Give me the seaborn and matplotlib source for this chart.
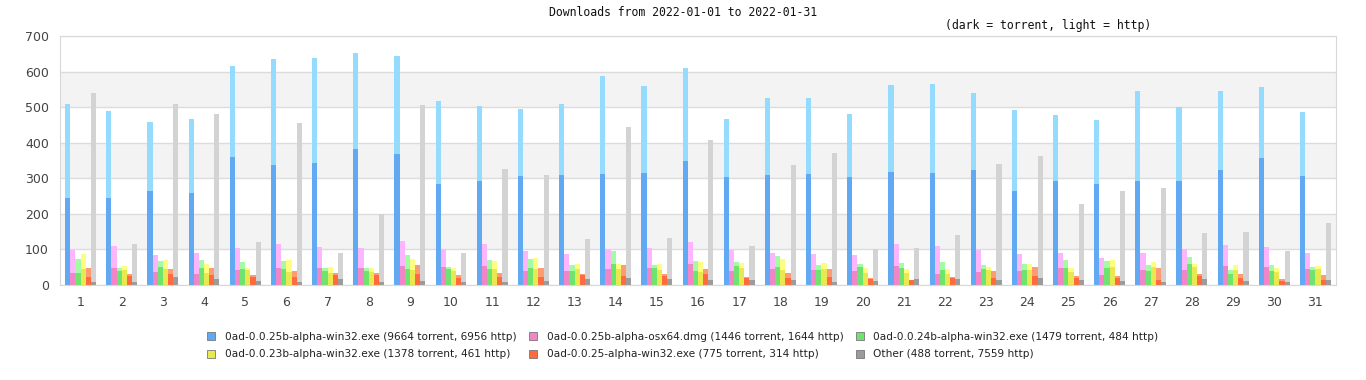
import matplotlib
matplotlib.use("Agg")
import matplotlib.pyplot as plt
from matplotlib.patches import Patch
import pandas as pd
import seaborn as sns

# Daily values: total height (torrent + http) and torrent part
days = list(range(1, 32))

files = [
    "0ad-0.0.25b-alpha-win32.exe (9664 torrent, 6956 http)",
    "0ad-0.0.25b-alpha-osx64.dmg (1446 torrent, 1644 http)",
    "0ad-0.0.24b-alpha-win32.exe (1479 torrent, 484 http)",
    "0ad-0.0.23b-alpha-win32.exe (1378 torrent, 461 http)",
    "0ad-0.0.25-alpha-win32.exe (775 torrent, 314 http)",
    "Other (488 torrent, 7559 http)",
]

win25b_total = [509, 489, 458, 467, 616, 635, 638, 652, 644, 517, 503, 495, 509, 588, 560, 610,
                467, 526, 526, 481, 562, 565, 540, 492, 478, 464, 545, 500, 545, 557, 486]
win25b_torrent = [245, 245, 264, 259, 360, 337, 343, 382, 368, 284, 292, 306, 309, 312, 315, 349,
                  304, 309, 312, 304, 318, 315, 323, 264, 292, 284, 292, 292, 323, 357, 306]

osx25b_total = [98, 110, 84, 90, 104, 115, 107, 104, 124, 101, 115, 96, 87, 101, 104, 121,
                98, 90, 87, 84, 115, 110, 98, 87, 90, 76, 90, 101, 112, 107, 90]
osx25b_torrent = [34, 48, 37, 31, 42, 48, 48, 48, 53, 51, 53, 39, 39, 45, 48, 59,
                  39, 45, 42, 39, 53, 31, 37, 39, 48, 28, 42, 42, 53, 51, 45]

win24b_total = [73, 48, 67, 70, 65, 67, 48, 48, 84, 51, 70, 73, 56, 96, 56, 67,
                65, 82, 56, 59, 62, 65, 56, 59, 70, 67, 56, 79, 42, 56, 51]
win24b_torrent = [34, 40, 51, 48, 45, 45, 39, 39, 45, 45, 45, 48, 39, 59, 48, 39,
                  53, 51, 42, 51, 48, 42, 45, 42, 48, 48, 39, 59, 31, 39, 42]

win23b_total = [87, 53, 70, 59, 48, 70, 51, 48, 73, 48, 67, 76, 59, 59, 59, 65,
                62, 73, 62, 48, 45, 45, 51, 59, 48, 70, 65, 59, 56, 48, 53]
win23b_torrent = [45, 42, 45, 34, 42, 37, 34, 37, 42, 39, 45, 45, 45, 45, 42, 37,
                  48, 42, 45, 34, 34, 31, 42, 42, 37, 51, 51, 51, 42, 37, 45]

win25_total = [48, 31, 45, 48, 28, 39, 34, 34, 56, 28, 34, 48, 31, 56, 31, 45,
               22, 34, 45, 20, 14, 22, 39, 51, 25, 25, 48, 31, 31, 17, 28]
win25_torrent = [22, 24, 31, 28, 22, 22, 28, 28, 31, 20, 22, 22, 28, 25, 25, 31,
                 20, 20, 22, 17, 13, 20, 20, 25, 20, 20, 14, 25, 20, 11, 14]

other_total = [540, 116, 509, 481, 121, 455, 90, 200, 506, 90, 326, 309, 129, 444, 132, 408,
               110, 337, 372, 101, 104, 141, 340, 363, 228, 264, 273, 146, 149, 96, 174]
other_torrent = [8, 8, 22, 17, 11, 8, 17, 8, 11, 8, 8, 11, 17, 20, 17, 14,
                 14, 14, 8, 11, 17, 17, 14, 20, 14, 11, 8, 17, 11, 8, 14]

dark_colors = ["#62a9f3", "#f086c8", "#6ee36e", "#e8e851", "#ff6b3d", "#9b9b9b"]
light_colors = ["#94dbfd", "#fdb6fd", "#a3fba3", "#fdfd80", "#ff9b73", "#d3d3d3"]

totals = [win25b_total, osx25b_total, win24b_total, win23b_total, win25_total, other_total]
torrents = [win25b_torrent, osx25b_torrent, win24b_torrent, win23b_torrent, win25_torrent, other_torrent]

rows = []
for name, tot, tor in zip(files, totals, torrents):
    for d, a, b in zip(days, tot, tor):
        rows.append({"day": d, "file": name, "total": a, "torrent": b})
df = pd.DataFrame(rows)

sns.set_style("white")
plt.rcParams["font.family"] = ["DejaVu Sans"]

fig = plt.figure(figsize=(13.66, 3.8), dpi=100)
ax = fig.add_axes([60 / 1366, 1 - 285 / 380, 1276 / 1366, 249 / 380])

# alternating background bands
for lo in (100, 300, 500):
    ax.axhspan(lo, lo + 100, color="#f3f3f3", zorder=0, lw=0)

# light = total (torrent + http), dark = torrent part drawn over it
sns.barplot(df, x="day", y="total", hue="file", hue_order=files, palette=light_colors,
            width=0.75, saturation=1, errorbar=None, legend=False, linewidth=0, ax=ax)
sns.barplot(df, x="day", y="torrent", hue="file", hue_order=files, palette=dark_colors,
            width=0.75, saturation=1, errorbar=None, legend=False, linewidth=0, ax=ax)

ax.set_ylim(0, 700)
ax.set_xlim(-0.5, 30.5)
ax.set_yticks(range(0, 701, 100))
ax.yaxis.grid(True, color="#dcdcdc", lw=1)
ax.set_axisbelow(True)
for s in ax.spines.values():
    s.set_color("#d8d8d8")
ax.tick_params(length=0, labelsize=9, colors="#444444", pad=8)
ax.set(xlabel="", ylabel="")

fig.text(0.5, 1 - 13 / 380, "Downloads from 2022-01-01 to 2022-01-31",
         family="DejaVu Sans Mono", size=8.3, ha="center", va="center", color="#111111")
fig.text(1048 / 1366, 1 - 26 / 380, "(dark = torrent, light = http)",
         family="DejaVu Sans Mono", size=8.3, ha="center", va="center", color="#111111")

# legend filled row by row (matplotlib fills columns first)
order = [0, 3, 1, 4, 2, 5]
handles = [Patch(facecolor=dark_colors[i], edgecolor="#777777", lw=0.6) for i in order]
labels = [files[i] for i in order]
fig.legend(handles, labels, loc="upper center", bbox_to_anchor=(0.5, 1 - 322 / 380),
           ncol=3, frameon=False, fontsize=7.6, handlelength=0.75, handleheight=0.75,
           handletextpad=0.9, columnspacing=1.2, labelspacing=0.75, labelcolor="#222222")

fig.savefig("out.png", dpi=100)
